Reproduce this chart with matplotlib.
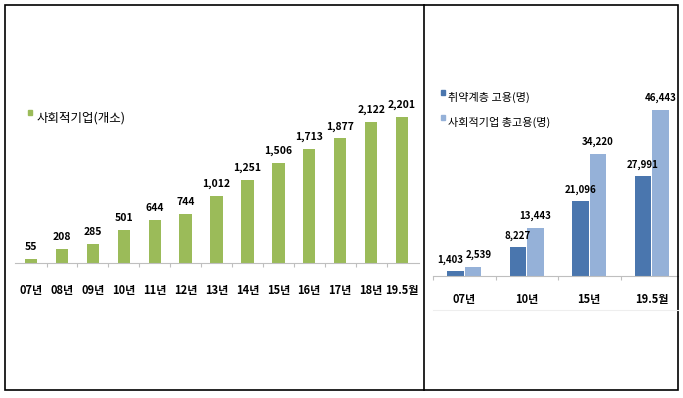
import matplotlib
matplotlib.use('Agg')
import matplotlib.pyplot as plt
from matplotlib.lines import Line2D
from matplotlib.patches import Rectangle

plt.rcParams['font.family'] = ['Noto Sans CJK KR', 'DejaVu Sans']

# 왼쪽: 사회적기업 수
years = ['07년', '08년', '09년', '10년', '11년', '12년', '13년', '14년', '15년', '16년', '17년', '18년', '19.5월']
firms = [55, 208, 285, 501, 644, 744, 1012, 1251, 1506, 1713, 1877, 2122, 2201]

# 오른쪽: 고용 인원
emp_years = ['07년', '10년', '15년', '19.5월']
vulnerable = [1403, 8227, 21096, 27991]
total_emp = [2539, 13443, 34220, 46443]

GREEN = '#9BBB59'
DARK = '#4A76AE'
LIGHT = '#95B1D8'

W, H = 683, 398
fig = plt.figure(figsize=(W / 100, H / 100), dpi=100)


def px(x0, y0, x1, y1):
    # 픽셀 좌표 -> figure 비율
    return [x0 / W, 1 - y1 / H, (x1 - x0) / W, (y1 - y0) / H]


def style_axes(ax, n, labelsize, pad):
    for s in ['top', 'right', 'left']:
        ax.spines[s].set_visible(False)
    ax.spines['bottom'].set_color('#BFBFBF')
    ax.spines['bottom'].set_linewidth(0.8)
    ax.set_yticks([])
    ax.set_xticks(range(n))
    ax.tick_params(axis='x', which='major', length=0, pad=pad, labelsize=labelsize)
    for t in ax.get_xticklabels():
        t.set_fontweight('bold')
    ax.tick_params(axis='x', which='minor', length=3, color='#BFBFBF', width=0.8)


# ---- 왼쪽 차트
ax1 = fig.add_axes(px(15, 40, 419, 263))
ax1.bar(range(len(years)), firms, width=0.4, color=GREEN)
ax1.set_xlim(-0.52, len(years) - 1 + 0.55)
ax1.set_ylim(0, 2201 * 223 / 146)
ax1.set_xticklabels(years)
style_axes(ax1, len(years), 8, 15)
ax1.set_xticks([i - 0.5 for i in range(1, len(years))], minor=True)
for i, v in enumerate(firms):
    ax1.annotate(f'{v:,}', (i, v), xytext=(0, 5), textcoords='offset points',
                 ha='center', va='bottom', fontsize=7.5, fontweight='bold')

fig.add_artist(Rectangle((28 / W, 1 - 115 / H), 4 / W, 5 / H, color=GREEN, transform=fig.transFigure))
fig.text(37 / W, 1 - 118 / H, '사회적기업(개소)', fontsize=9, va='center', ha='left')

# ---- 오른쪽 차트
ax2 = fig.add_axes(px(433, 40, 678, 276))
x = range(len(emp_years))
bw = 0.265
ax2.bar([i - bw / 2 - 0.01 for i in x], vulnerable, width=bw, color=DARK)
ax2.bar([i + bw / 2 + 0.01 for i in x], total_emp, width=bw, color=LIGHT)
ax2.set_xlim(-0.5, len(emp_years) - 1 + 0.42)
ax2.set_ylim(0, 46443 * 236 / 166)
ax2.set_xticklabels(emp_years)
style_axes(ax2, len(emp_years), 8, 12)
ax2.set_xticks([i - 0.5 for i in range(len(emp_years))], minor=True)
for i in x:
    dx = -4 if i == 0 else 0
    ax2.annotate(f'{vulnerable[i]:,}', (i - bw / 2 - 0.01, vulnerable[i]), xytext=(dx, 4),
                 textcoords='offset points', ha='center', va='bottom', fontsize=7, fontweight='bold')
    ax2.annotate(f'{total_emp[i]:,}', (i + bw / 2 + 0.01, total_emp[i]), xytext=(-dx, 5),
                 textcoords='offset points', ha='center', va='bottom', fontsize=7, fontweight='bold')

fig.add_artist(Rectangle((441 / W, 1 - 95 / H), 4 / W, 5 / H, color=DARK, transform=fig.transFigure))
fig.text(448 / W, 1 - 97 / H, '취약계층 고용(명)', fontsize=8, fontweight='medium', va='center', ha='left')
fig.add_artist(Rectangle((441 / W, 1 - 120 / H), 4 / W, 5 / H, color=LIGHT, transform=fig.transFigure))
fig.text(448 / W, 1 - 122 / H, '사회적기업 총고용(명)', fontsize=8, fontweight='medium', va='center', ha='left')

fig.add_artist(Line2D([433 / W, 678 / W], [1 - 310 / H, 1 - 310 / H], color='#EEEEEE', lw=0.8))

# ---- 테두리
fig.add_artist(Rectangle((5 / W, 1 - 390 / H), 673 / W, 385 / H, fill=False, ec='black', lw=1.2,
                         transform=fig.transFigure))
fig.add_artist(Line2D([424 / W, 424 / W], [1 - 390 / H, 1 - 5 / H], color='black', lw=1.2))

fig.savefig('out.png', dpi=100)
